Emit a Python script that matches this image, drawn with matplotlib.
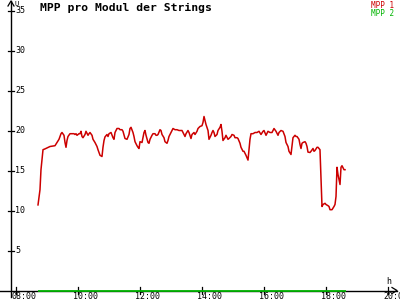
import matplotlib
matplotlib.use("Agg")
import matplotlib.pyplot as plt

# ---- data ----
hours = [8.710, 8.774, 8.806, 8.871, 8.935, 9.097, 9.258, 9.323, 9.387, 9.452, 9.484, 9.548, 9.581, 9.613,
         9.645, 9.677, 9.742, 9.806, 9.871, 9.903, 9.935, 9.968, 10.032, 10.065, 10.097, 10.129, 10.161,
         10.226, 10.258, 10.323, 10.355, 10.387, 10.452, 10.484, 10.548, 10.613, 10.645, 10.710, 10.774,
         10.806, 10.839, 10.871, 10.935, 10.968, 11.000, 11.065, 11.129, 11.161, 11.194, 11.258, 11.323,
         11.355, 11.419, 11.452, 11.516, 11.581, 11.645, 11.677, 11.710, 11.774, 11.806, 11.839, 11.903,
         11.935, 11.968, 12.000, 12.065, 12.097, 12.129, 12.161, 12.194, 12.258, 12.290, 12.323, 12.387,
         12.419, 12.484, 12.516, 12.548, 12.581, 12.645, 12.677, 12.710, 12.774, 12.806, 12.871, 12.903,
         12.935, 13.000, 13.032, 13.065, 13.129, 13.194, 13.258, 13.290, 13.355, 13.387, 13.452, 13.484,
         13.548, 13.581, 13.645, 13.677, 13.742, 13.774, 13.839, 13.871, 13.935, 14.000, 14.032, 14.065,
         14.129, 14.161, 14.194, 14.226, 14.290, 14.323, 14.355, 14.387, 14.419, 14.484, 14.516, 14.581,
         14.613, 14.645, 14.677, 14.742, 14.774, 14.839, 14.871, 14.935, 14.968, 15.032, 15.065, 15.129,
         15.161, 15.226, 15.258, 15.323, 15.355, 15.419, 15.484, 15.516, 15.548, 15.581, 15.645, 15.710,
         15.774, 15.839, 15.903, 15.968, 16.000, 16.065, 16.129, 16.194, 16.258, 16.323, 16.387, 16.452,
         16.484, 16.548, 16.613, 16.677, 16.710, 16.774, 16.806, 16.871, 16.903, 16.935, 17.000, 17.032,
         17.065, 17.129, 17.161, 17.194, 17.226, 17.258, 17.323, 17.355, 17.387, 17.419, 17.484, 17.516,
         17.581, 17.613, 17.645, 17.710, 17.742, 17.774, 17.806, 17.839, 17.871, 17.903, 17.968, 18.000,
         18.065, 18.097, 18.129, 18.194, 18.258, 18.290, 18.323, 18.355, 18.387, 18.452, 18.484, 18.516,
         18.581, 18.613]

mpp1 = [10.7, 12.6, 15.1, 17.6, 17.7, 18.0, 18.1, 18.5, 18.9, 19.6, 19.75, 19.4, 18.5, 17.9,
        18.75, 19.25, 19.6, 19.6, 19.6, 19.5, 19.6, 19.4, 19.6, 19.6, 19.9, 19.25, 19.1,
        19.5, 19.9, 19.4, 19.6, 19.75, 19.4, 18.9, 18.5, 18.0, 17.6, 16.9, 16.75,
        17.9, 18.75, 19.2, 19.5, 19.25, 19.6, 19.75, 19.1, 18.9, 19.75, 20.25, 20.25,
        20.1, 20.1, 19.9, 19.0, 18.9, 19.5, 20.25, 20.4, 19.75, 19.25, 18.6, 18.1,
        17.9, 17.75, 18.6, 18.5, 19.1, 19.75, 20.0, 19.4, 18.5, 18.4, 18.9, 19.4,
        19.6, 19.6, 19.4, 19.4, 19.5, 20.1, 20.0, 19.5, 19.1, 18.6, 18.4, 18.75,
        19.25, 19.75, 20.0, 20.25, 20.1, 20.1, 20.0, 20.0, 20.0, 19.75, 19.25, 19.6,
        20.0, 19.75, 19.0, 19.5, 19.75, 19.5, 19.9, 20.25, 20.5, 20.6, 21.0, 21.75,
        20.75, 20.4, 20.0, 18.9, 19.4, 19.75, 20.0, 19.75, 19.25, 19.5, 20.0, 20.4,
        20.75, 19.9, 18.75, 19.1, 19.4, 18.9, 19.0, 19.25, 19.5, 19.4, 19.1, 19.1,
        19.0, 18.4, 17.9, 17.4, 17.4, 16.9, 16.3, 17.6, 18.9, 19.6, 19.6, 19.75,
        19.75, 19.9, 19.5, 19.9, 20.0, 19.4, 19.9, 19.75, 19.75, 20.25, 19.9, 19.4,
        19.75, 20.0, 19.9, 19.25, 18.5, 18.0, 17.4, 17.0, 18.1, 19.1, 19.4, 19.25,
        19.25, 18.9, 18.25, 17.75, 18.4, 18.5, 18.6, 18.4, 18.0, 17.3, 17.25, 17.4,
        17.75, 17.4, 17.5, 17.9, 17.9, 17.75, 17.6, 13.9, 10.5, 10.75, 10.9, 10.75,
        10.6, 10.5, 10.1, 10.1, 10.5, 10.75, 11.75, 15.4, 14.5, 13.25, 15.4, 15.6,
        15.1, 15.1]

mpp2_hours = [8.710, 18.645]
mpp2 = [0.0, 0.0]

y_ticks = [5, 10, 15, 20, 25, 30, 35]
x_ticks = [8, 10, 12, 14, 16, 18, 20]
x_tick_labels = ["08:00", "10:00", "12:00", "14:00", "16:00", "18:00", "20:00"]
series_names = ["MPP 1", "MPP 2"]
title = "MPP pro Modul der Strings"

RED = "#cc0000"
GREEN = "#00b400"
MONO = "DejaVu Sans Mono"

# ---- figure ----
fig = plt.figure(figsize=(4, 3), dpi=100)
ax = fig.add_axes([0, 0, 1, 1])
PXX = 1 / 31.0   # hours per pixel
PXY = 1 / 8.0    # units per pixel
x0 = 8 - 16 * PXX
ax.set_xlim(x0, x0 + 400 * PXX)
ax.set_ylim(-9.5 * PXY, 290.5 * PXY)
ax.axis("off")

axis_x = x0 + 11 * PXX
top = 290.5 * PXY - 1 * PXY
right = x0 + 397 * PXX

# data lines
ax.plot(mpp2_hours, mpp2, color=GREEN, lw=1.3, solid_capstyle="butt", zorder=3)
ax.plot(hours, mpp1, color=RED, lw=1.1, zorder=4)

# axes lines with arrows
ax.plot([axis_x, axis_x], [-6.5 * PXY, top], color="black", lw=1.0, zorder=2)
ax.plot([axis_x - 3 * PXX, axis_x, axis_x + 3 * PXX], [top - 5 * PXY, top, top - 5 * PXY],
        color="black", lw=0.9)
ax.plot([x0, right], [0, 0], color="black", lw=1.0, zorder=2)
ax.plot([right - 5 * PXX, right, right - 5 * PXX], [3 * PXY, 0, -3 * PXY], color="black", lw=0.9)

# ticks
for v in y_ticks:
    ax.plot([axis_x - 2.5 * PXX, axis_x + 2.5 * PXX], [v, v], color="black", lw=0.9)
    ax.text(axis_x + 4 * PXX, v, str(v), fontsize=6, family=MONO, ha="left", va="center")
for t, lab in zip(x_ticks, x_tick_labels):
    ax.plot([t, t], [-3.5 * PXY, 3.5 * PXY], color="black", lw=0.9)
    ax.text(t - 4.5 * PXX, -1.8 * PXY, lab, fontsize=6, family=MONO, ha="left", va="top")

# axis unit labels
ax.text(axis_x + 4 * PXX, 290.5 * PXY - 0.5 * PXY, "U", fontsize=5, family=MONO, ha="left", va="top")
ax.text(x0 + 388.5 * PXX, 4 * PXY, "h", fontsize=6, family=MONO, ha="center", va="bottom")

# title and legend
fig.text(40 / 400, 1 - 7.5 / 300, title, fontsize=8.2, family=MONO, weight="bold",
         ha="left", va="center")
fig.text(394 / 400, 1 - 5 / 300, series_names[0], fontsize=5.5, family=MONO, color=RED,
         ha="right", va="center")
fig.text(394 / 400, 1 - 13 / 300, series_names[1], fontsize=5.5, family=MONO, color=GREEN,
         ha="right", va="center")

fig.savefig("out.png", dpi=100, facecolor="white")
